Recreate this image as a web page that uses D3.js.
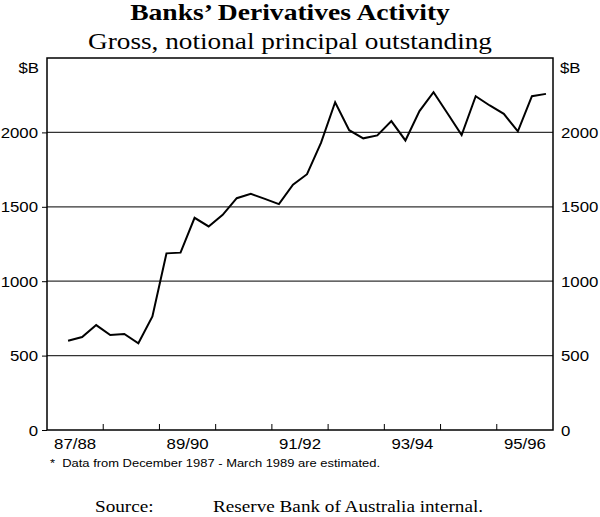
<!DOCTYPE html>
<html>
<head>
<meta charset="utf-8">
<script src="https://cdn.jsdelivr.net/npm/d3@7"></script>
<style>
  body { margin: 0; background: #fff; }
  svg text { fill: #000; }
</style>
</head>
<body>
<div id="container"></div>
<script>
// Quarterly data, Dec 1987 to Jun 1996 ($B)
const quarters = ['Dec-87', 'Mar-88', 'Jun-88', 'Sep-88', 'Dec-88', 'Mar-89', 'Jun-89', 'Sep-89',
  'Dec-89', 'Mar-90', 'Jun-90', 'Sep-90', 'Dec-90', 'Mar-91', 'Jun-91', 'Sep-91',
  'Dec-91', 'Mar-92', 'Jun-92', 'Sep-92', 'Dec-92', 'Mar-93', 'Jun-93', 'Sep-93',
  'Dec-93', 'Mar-94', 'Jun-94', 'Sep-94', 'Dec-94', 'Mar-95', 'Jun-95', 'Sep-95',
  'Dec-95', 'Mar-96', 'Jun-96'];
const values = [600, 625, 705, 638, 645, 583, 763, 1187,
  1192, 1426, 1368, 1446, 1558, 1587, 1553, 1518,
  1649, 1719, 1931, 2203, 2015, 1960, 1980, 2076,
  1946, 2143, 2270, 2127, 1982, 2243, 2181, 2125,
  2007, 2243, 2259];
// financial years, first quarter of 87/88 (Sep-87) has no data
const years = ['87/88', '88/89', '89/90', '90/91', '91/92', '92/93', '93/94', '94/95', '95/96'];
const yearLabels = ['87/88', '89/90', '91/92', '93/94', '95/96'];
const yTicks = [0, 500, 1000, 1500, 2000];

const width = 600;
const height = 517;
const plot = { left: 47, right: 553, top: 58, bottom: 430 };

const serif = '"Liberation Serif", "Times New Roman", serif';
const sans = '"Liberation Sans", Arial, sans-serif';
// the original artwork is a little wider than it is tall
const stretch = 1.2;

const svg = d3.select('#container').append('svg')
  .attr('width', width)
  .attr('height', height);

function addText(parent, x, y, str, anchor, font, size, weight) {
  return parent.append('text')
    .attr('transform', 'translate(' + x + ',' + y + ') scale(' + stretch + ',1)')
    .attr('text-anchor', anchor)
    .style('font-family', font)
    .style('font-size', size + 'px')
    .style('font-weight', weight || 'normal')
    .text(str);
}

// Title
addText(svg, 290, 20, 'Banks\u2019 Derivatives Activity', 'middle', serif, 23, 'bold');
addText(svg, 290, 49, 'Gross, notional principal outstanding', 'middle', serif, 22.7);

// Scales: x in quarters from Sep-87 (index 0), 36 quarters total
const xScale = d3.scaleLinear()
  .domain([0, years.length * 4])
  .range([plot.left, plot.right]);

const yScale = d3.scaleLinear()
  .domain([0, 2500])
  .range([plot.bottom, plot.top]);

// Gridlines
svg.append('g')
  .selectAll('line')
  .data(yTicks.filter(d => d > 0))
  .enter()
  .append('line')
  .attr('x1', plot.left).attr('x2', plot.right)
  .attr('y1', d => yScale(d)).attr('y2', d => yScale(d))
  .attr('stroke', '#333')
  .attr('stroke-width', 1.2);

// Left ticks
svg.append('g')
  .attr('transform', 'translate(' + plot.left + ',0)')
  .call(d3.axisLeft(yScale).tickValues(yTicks).tickSize(5).tickFormat(''))
  .call(g => g.select('.domain').remove())
  .call(g => g.selectAll('line').attr('stroke', '#000'));

// Y labels both sides
const yLab = svg.append('g');
yTicks.forEach(d => {
  addText(yLab, 38, yScale(d) + 5.5, d3.format('d')(d), 'end', sans, 14);
  addText(yLab, 561, yScale(d) + 5.5, d3.format('d')(d), 'start', sans, 14);
});

addText(svg, 39, 72.5, '$B', 'end', sans, 14);
addText(svg, 560, 72.5, '$B', 'start', sans, 14);

// X ticks inside at year boundaries
svg.append('g')
  .selectAll('line')
  .data(d3.range(1, years.length))
  .enter()
  .append('line')
  .attr('x1', d => xScale(d * 4)).attr('x2', d => xScale(d * 4))
  .attr('y1', plot.bottom).attr('y2', plot.bottom - 6)
  .attr('stroke', '#000')
  .attr('stroke-width', 1);

// X labels in middle of each labelled year
const xLab = svg.append('g');
yearLabels.forEach(d => {
  addText(xLab, xScale(years.indexOf(d) * 4 + 2), 449, d, 'middle', sans, 14);
});

// Frame
svg.append('rect')
  .attr('x', plot.left).attr('y', plot.top)
  .attr('width', plot.right - plot.left)
  .attr('height', plot.bottom - plot.top)
  .attr('fill', 'none')
  .attr('stroke', '#000')
  .attr('stroke-width', 1.5);

// Line: each point in the middle of its quarter
const line = d3.line()
  .x((d, i) => xScale(i + 1.5))
  .y(d => yScale(d));

svg.append('path')
  .datum(values)
  .attr('d', line)
  .attr('fill', 'none')
  .attr('stroke', '#000')
  .attr('stroke-width', 2)
  .attr('stroke-linejoin', 'miter');

// Footnote
addText(svg, 50, 467, '*  Data from December 1987 - March 1989 are estimated.', 'start', sans, 10.8)
  .attr('xml:space', 'preserve');

// Source
addText(svg, 95, 512, 'Source:', 'start', serif, 16);
addText(svg, 213, 512, 'Reserve Bank of Australia internal.', 'start', serif, 16);
</script>
</body>
</html>
